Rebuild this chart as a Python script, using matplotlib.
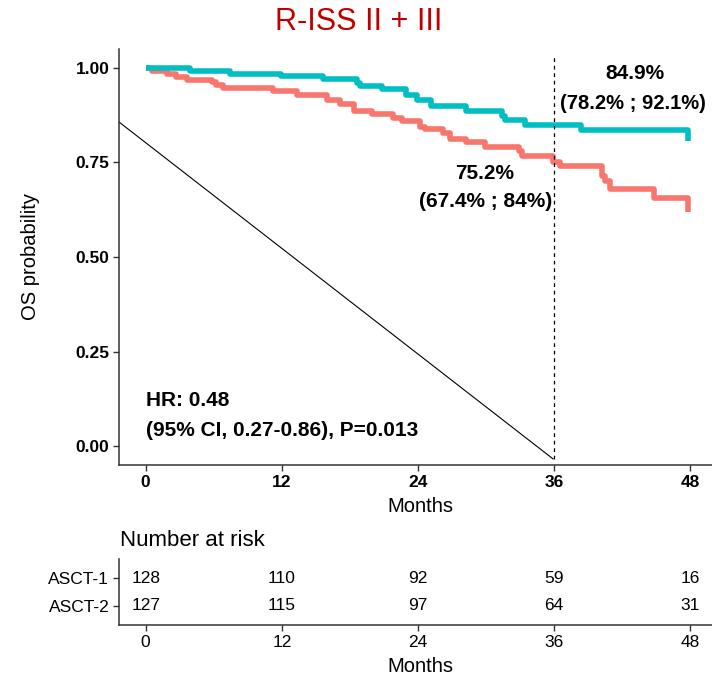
import matplotlib
matplotlib.use("Agg")
import matplotlib.pyplot as plt

plt.rcParams['font.family'] = ['Liberation Sans', 'DejaVu Sans']

# Kaplan-Meier step points (months, survival after the step)
asct1_time = [0, 0.55, 1.85, 2.7, 3.6, 5.85, 6.2, 6.8, 11.2, 13.3, 16.0, 17.1, 18.4,
              19.9, 21.8, 22.6, 24.2, 24.6, 26.2, 26.8, 28.2, 29.9, 32.9, 33.2,
              35.9, 36.5, 40.2, 40.5, 40.9, 44.8, 47.8]
asct1_surv = [1.0, 0.991, 0.984, 0.977, 0.969, 0.962, 0.955, 0.946, 0.938, 0.929,
              0.915, 0.905, 0.887, 0.878, 0.868, 0.859, 0.845, 0.839, 0.828, 0.812,
              0.803, 0.790, 0.781, 0.768, 0.752, 0.741, 0.715, 0.702, 0.680, 0.655,
              0.618]

asct2_time = [0, 3.9, 7.4, 11.9, 15.6, 18.6, 18.9, 20.8, 22.9, 23.9, 25.1, 28.2,
              31.4, 31.7, 33.4, 38.4, 47.8]
asct2_surv = [1.0, 0.992, 0.985, 0.979, 0.970, 0.960, 0.953, 0.943, 0.929, 0.916,
              0.898, 0.885, 0.874, 0.862, 0.849, 0.837, 0.808]

groups = ['ASCT-1', 'ASCT-2']
colors = ['#F8766D', '#00BFC4']
risk_times = [0, 12, 24, 36, 48]
risk_asct1 = [128, 110, 92, 59, 16]
risk_asct2 = [127, 115, 97, 64, 31]

# 36-month estimates with CI
est_time = 36
est_asct1 = ['75.2%', '(67.4% ; 84%)']
est_asct2 = ['84.9%', '(78.2% ; 92.1%)']
hr_text = ['HR: 0.48', '(95% CI, 0.27-0.86), P=0.013']

xlim = (-2.35, 49.9)
spine_col = '#333333'

fig = plt.figure(figsize=(7.12, 6.8), dpi=100)
ax = fig.add_axes([119 / 712, 1 - 465 / 680, 1 - 119 / 712, (465 - 49) / 680])

ax.step(asct1_time, asct1_surv, where='post', color=colors[0], lw=4, solid_capstyle='butt')
ax.step(asct2_time, asct2_surv, where='post', color=colors[1], lw=4, solid_capstyle='butt')

# thin diagonal and dashed landmark line
ax.plot([xlim[0], 35.9], [0.857, -0.034], color='black', lw=0.8)
ax.plot([est_time, est_time], [-0.034, 1.03], color='black', lw=0.9, ls=(0, (3, 3)))

ax.set_xlim(*xlim)
ax.set_ylim(-0.05, 1.05)
ax.set_xticks(risk_times)
ax.set_yticks([0, 0.25, 0.5, 0.75, 1.0])
ax.set_yticklabels(['0.00', '0.25', '0.50', '0.75', '1.00'])
for lab in ax.get_xticklabels() + ax.get_yticklabels():
    lab.set_fontweight('bold')
    lab.set_fontsize(12.5)
ax.tick_params(length=4, width=1, color=spine_col, pad=3)
for s in ['top', 'right']:
    ax.spines[s].set_visible(False)
for s in ['left', 'bottom']:
    ax.spines[s].set_color(spine_col)
    ax.spines[s].set_linewidth(1.1)

ax.text(36 + (635 - 554) / 11.34, 1 - (75 - 69) / 377.7, est_asct2[0], ha='center', va='center',
        fontsize=15, fontweight='bold')
ax.text(36 + (633 - 554) / 11.34, 1 - (105 - 69) / 377.7, est_asct2[1], ha='center', va='center',
        fontsize=14.5, fontweight='bold')
ax.text(36 - (554 - 484) / 11.34, 1 - (174 - 69) / 377.7, est_asct1[0], ha='center', va='center',
        fontsize=15, fontweight='bold')
ax.text(36 - (554 - 485) / 11.34, 1 - (202 - 69) / 377.7, est_asct1[1], ha='center', va='center',
        fontsize=15, fontweight='bold')
ax.text(0.05, 1 - (401 - 69) / 377.7, hr_text[0], ha='left', va='center', fontsize=15, fontweight='bold')
ax.text(0.05, 1 - (431 - 69) / 377.7, hr_text[1], ha='left', va='center', fontsize=15, fontweight='bold')

fig.text(359 / 712, 1 - 22 / 680, 'R-ISS II + III', ha='center', va='center', fontsize=22, color='#C00000')
fig.text(31 / 712, 1 - 256 / 680, 'OS probability', ha='center', va='center', rotation=90, fontsize=14.5)
fig.text(420 / 712, 1 - 507 / 680, 'Months', ha='center', va='center', fontsize=14.5)

# number at risk table
rax = fig.add_axes([119 / 712, 1 - 625 / 680, 1 - 119 / 712, 66 / 680])
rax.set_xlim(*xlim)
rax.set_ylim(-0.68, 1.68)
for t, a, b in zip(risk_times, risk_asct1, risk_asct2):
    rax.text(t, 1, str(a), ha='center', va='center', fontsize=12.5)
    rax.text(t, 0, str(b), ha='center', va='center', fontsize=12.5)
rax.set_yticks([1, 0])
rax.set_yticklabels(groups, fontsize=12.5)
rax.set_xticks(risk_times)
rax.set_xticklabels([str(t) for t in risk_times], fontsize=12.5)
rax.tick_params(length=4, width=1, color=spine_col, pad=3)
for s in ['top', 'right']:
    rax.spines[s].set_visible(False)
for s in ['left', 'bottom']:
    rax.spines[s].set_color(spine_col)
    rax.spines[s].set_linewidth(1.1)
fig.text(120 / 712, 1 - 541 / 680, 'Number at risk', ha='left', va='center', fontsize=16)
fig.text(420 / 712, 1 - 667 / 680, 'Months', ha='center', va='center', fontsize=14.5)

fig.savefig('out.png', dpi=100)
